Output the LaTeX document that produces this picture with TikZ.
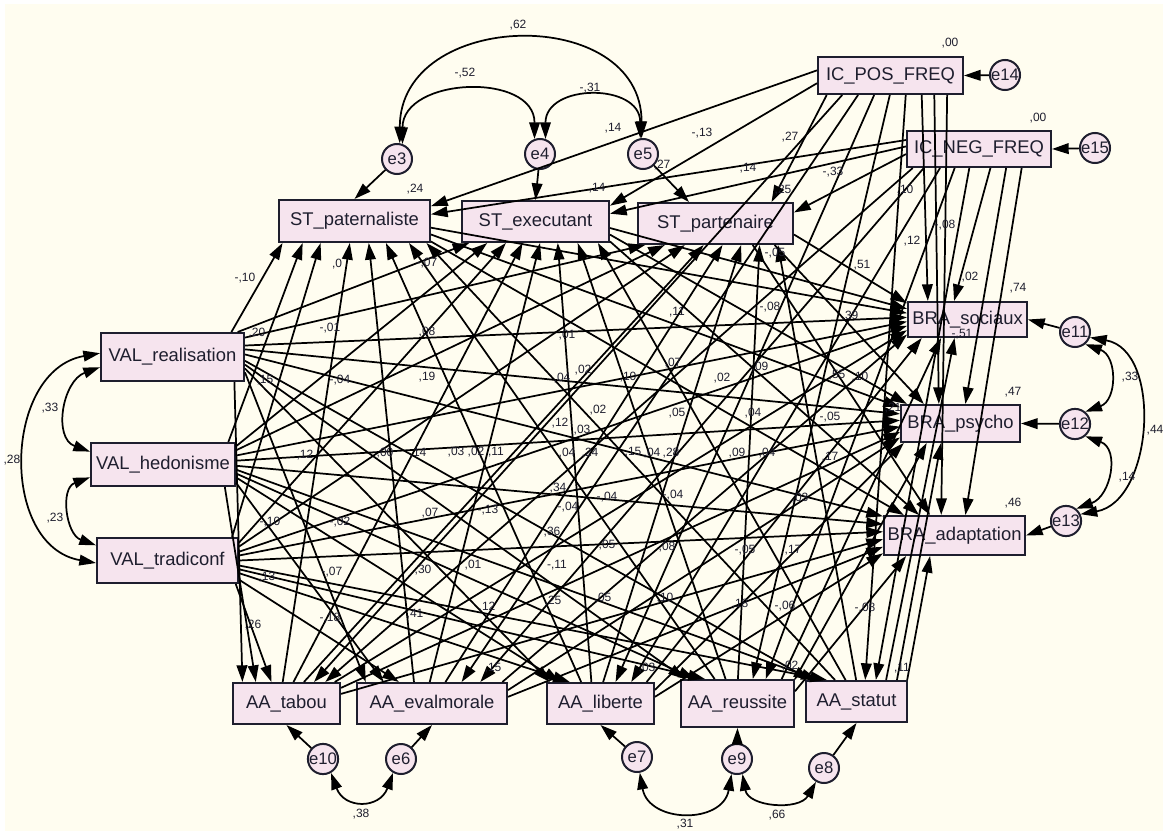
\documentclass[tikz,border=0pt]{standalone}
\usepackage{fontspec}
\setmainfont{Liberation Sans}
\usetikzlibrary{arrows.meta}
\definecolor{bgcream}{HTML}{FFFDF0}
\definecolor{boxpink}{HTML}{F6E4EE}
\definecolor{ink}{HTML}{1E1E2E}
\tikzset{
 box/.style={draw=ink, line width=1.5pt, fill=boxpink, inner sep=0pt, font=\fontsize{13.8}{15}\selectfont, text=ink},
 err/.style={circle, draw=ink, line width=1.5pt, fill=boxpink, inner sep=0pt, minimum size=22.5pt, font=\fontsize{12.5}{13}\selectfont, text=ink},
 arr/.style={draw=black, line width=1.3pt, -{Triangle[length=12.5pt,width=8pt]}},
 cov/.style={draw=black, line width=1.3pt, {Triangle[length=12.5pt,width=8pt]}-{Triangle[length=12.5pt,width=8pt]}},
 lab/.style={inner sep=0pt, font=\fontsize{9}{10}\selectfont, text=ink}
}
\begin{document}
\begin{tikzpicture}[x=0.75pt,y=-0.75pt]
\fill[white] (0,0) rectangle (1163,834);
\fill[bgcream] (5,4) rectangle (1163,831);
\useasboundingbox (0,0) rectangle (1163,834);
% boxes
\foreach \n/\cx/\cy/\w/\h/\t in {
 stp/354.5/221/151/42/ST\_paternaliste,
 ste/535.5/221.5/147/41/ST\_executant,
 stt/715.5/223.5/155/41/ST\_partenaire,
 icp/890.5/75.5/145/37/IC\_POS\_FREQ,
 icn/979/149/144/36/IC\_NEG\_FREQ,
 valr/172.5/357/143/48/VAL\_realisation,
 valh/163/464.5/144/43/VAL\_hedonisme,
 valt/167.5/560.5/141/45/VAL\_tradiconf,
 bras/967.5/319.5/119/35/BRA\_sociaux,
 brap/960.5/423.5/119/37/BRA\_psycho,
 braa/954.5/535.5/141/39/BRA\_adaptation,
 aat/286.5/703.5/107/41/AA\_tabou,
 aae/432/703.5/150/41/AA\_evalmorale,
 aal/600.5/703.5/107/41/AA\_liberte,
 aar/737.5/703.5/113/47/AA\_reussite,
 aas/856.5/701.5/101/41/AA\_statut}
 \node[box, minimum width=\w*0.75pt, minimum height=\h*0.75pt] (\n) at (\cx,\cy) {\t};
% error terms
\foreach \n/\cx/\cy in {e3/397/159, e4/540/154, e5/643/154, e11/1075/332, e12/1075/424, e13/1066/521, e10/323/759, e6/401/759, e7/637/757, e9/737/759, e8/824/768}
 \node[err] (\n) at (\cx,\cy) {\n};
\node[err, minimum size=19.5pt] (e14) at (1005,75) {e14};
\node[err, minimum size=19.5pt] (e15) at (1095,148) {e15};
% structural paths
\foreach \s/\a/\t/\b in {
 valr/23/stp/-163, valr/21/ste/-162, valr/15/stt/-163,
 valh/19/stp/-157, valh/14/ste/-156, valh/11/stt/-157,
 valt/20/stp/-147, valt/14/ste/-144, valt/11/stt/-145,
 valr/9/bras/178, valr/6/brap/171, valr/2/braa/165,
 valh/7/bras/-178, valh/3/brap/177, valh/-1/braa/171,
 valt/7/bras/-174, valt/4/brap/-177, valt/0/braa/177,
 valr/-3/aas/155, valr/-6/aar/155, valr/-9/aal/157, valr/-12/aae/162, valr/-22/aat/154,
 valh/-4/aas/151, valh/-7/aar/150, valh/-10/aal/152, valh/-14/aae/156, valh/-20/aat/145,
 valt/-4/aas/144, valt/-7/aar/143, valt/-10/aal/145, valt/-15/aae/147, valt/-19/aat/125,
 stp/-5/bras/174, stp/-10/brap/165, stp/-15/braa/158,
 ste/-5/bras/170, ste/-10/brap/160, ste/-15/braa/150,
 stt/-8/bras/165, stt/-20/brap/152, stt/-30/braa/140,
 aat/100/stp/-102, aat/72/ste/-121, aat/51/stt/-119,
 aae/130/stp/-57, aae/96/ste/-78, aae/58/stt/-72,
 aal/132/stp/-35, aal/113/ste/-44, aal/83/stt/-40,
 aar/133/stp/-22, aar/116/ste/-27, aar/89/stt/-26,
 aas/135/stp/-17, aas/117/ste/-19, aas/91/stt/-19,
 aat/24/bras/-170, aat/16/brap/-172, aat/10/braa/-177,
 aae/17/bras/-166, aae/10/brap/-167, aae/5/braa/-171,
 aal/25/bras/-158, aal/14/brap/-161, aal/7/braa/-166,
 aar/29/bras/-145, aar/23/brap/-150, aar/12/braa/-157,
 aas/36/bras/-125, aas/28/brap/-135, aas/23/braa/-140,
 icp/176/stp/11, icp/-174/ste/12, icp/-163/stt/21,
 icn/173/stp/5, icn/178/ste/6, icn/-176/stt/8,
 icp/-158/aat/38, icp/-149/aae/36, icp/-130/aal/55, icp/-92/aar/58, icp/-52/aas/68,
 icn/-164/aat/29, icn/-161/aae/24, icn/-154/aal/35, icn/-142/aar/41, icn/-117/aas/48,
 icp/-32/bras/155, icp/-24/brap/138, icp/-19/braa/123,
 icn/-59/bras/126, icn/-35/brap/76, icn/-24/braa/62}
 \draw[arr] (\s.\a) -- (\t.\b);
% error arrows
\draw[arr] (e3) -- (stp.north);
\draw[arr] (e4) -- (ste.north);
\draw[arr] (e5) -- (stt.141);
\draw[arr] (e14) -- (icp.east);
\draw[arr] (e15) -- (icn.east);
\draw[arr] (e11) -- (bras.east);
\draw[arr] (e12) -- (brap.east);
\draw[arr] (e13) -- (braa.east);
\draw[arr] (e10) -- (aat.south);
\draw[arr] (e6) -- (aae.south);
\draw[arr] (e7) -- (aal.south);
\draw[arr] (e9) -- (aar.south);
\draw[arr] (e8) -- (aas.south);
% covariances
\draw[cov] (e3.70) to[out=90,in=90,looseness=1.3] (e4.110);
\draw[cov] (e3.80) to[out=90,in=90,looseness=1.42] (e5.95);
\draw[cov] (e4.70) to[out=90,in=90,looseness=1.5] (e5.100);
\draw[cov] (valr.-172) to[out=200,in=160,looseness=1.2] (valh.170);
\draw[cov] (valh.-170) to[out=200,in=160,looseness=1.2] (valt.168);
\draw[cov] (valr.177) to[out=190,in=170,looseness=1.2] (valt.-178);
\draw[cov] (e11.-50) to[out=-20,in=20,looseness=1.3] (e12.50);
\draw[cov] (e11.-20) to[out=-10,in=10,looseness=1.07] (e13.25);
\draw[cov] (e12.-50) to[out=-20,in=20,looseness=1.3] (e13.50);
\draw[cov] (e10.-60) to[out=-70,in=-110,looseness=1.6] (e6.-120);
\draw[cov] (e7.-80) to[out=-80,in=-100,looseness=1.43] (e9.-110);
\draw[cov] (e9.-70) to[out=-80,in=-120,looseness=1.16] (e8.-120);
% labels
\foreach \x/\y/\t [count=\i] in {
 518/25/{,62}, 465/73/{-,52}, 590/88/{-,31}, 613/128/{,14}, 415/189/{,24}, 597/188/{,14}, 662/165/{,27},
 950/43/{,00}, 1038/118/{,00}, 702/133/{-,13}, 790/137/{,27}, 748/168/{,14}, 833/172/{-,33}, 783/190/{,25},
 905/190/{,10}, 945/225/{-,08}, 912/241/{,12}, 775/253/{-,05}, 862/265/{,51}, 970/277/{,02}, 1018/288/{,74},
 850/316/{,39}, 962/334/{-,51}, 837/375/{,55}, 860/377/{,10}, 1013/392/{,47}, 830/417/{-,05}, 893/408/{,21},
 830/457/{,17}, 1013/503/{,46}, 800/498/{,03}, 793/550/{,17}, 1130/377/{,33}, 1155/430/{,44}, 1127/477/{,14},
 50/408/{,33}, 12/460/{,28}, 55/518/{,23}, 245/278/{-,10}, 257/333/{,20}, 337/264/{,0}, 330/328/{-,01},
 265/380/{,15}, 340/380/{-,04}, 305/455/{,12}, 385/453/{,00}, 270/522/{-,10}, 340/522/{-,02}, 267/577/{,13},
 332/572/{-,07}, 427/263/{-,07}, 427/332/{,08}, 567/335/{,01}, 427/377/{,19}, 562/378/{,04}, 583/370/{,02},
 628/377/{,10}, 673/363/{,07}, 722/378/{,02}, 760/367/{,09}, 677/312/{,11}, 770/307/{-,08}, 598/410/{,02},
 677/413/{,05}, 753/413/{,04}, 560/423/{,12}, 582/430/{,03}, 418/453/{,14}, 456/452/{,03}, 476/452/{,02},
 496/452/{,11}, 567/453/{,04}, 590/453/{,24}, 633/452/{,15}, 652/453/{,04}, 671/453/{,28}, 737/453/{,09},
 767/453/{,04}, 558/488/{,34}, 568/507/{-,04}, 607/497/{-,04}, 673/495/{-,04}, 430/513/{,07}, 488/510/{-,13},
 552/532/{,36}, 607/545/{,05}, 667/547/{,08}, 745/550/{-,05}, 423/570/{,30}, 473/565/{,01}, 557/565/{-,11},
 253/625/{,26}, 330/618/{-,18}, 415/614/{,41}, 487/607/{,12}, 553/601/{,25}, 603/598/{,05}, 665/598/{,10},
 740/604/{,18}, 785/606/{-,06}, 865/608/{-,08}, 493/668/{,15}, 647/668/{,03}, 790/666/{,02}, 902/668/{,11},
 361/814/{,38}, 685/824/{,31}, 777/815/{,66}}
 \node[lab] (lab\i) at (\x,\y) {\t};
\end{tikzpicture}
\end{document}
